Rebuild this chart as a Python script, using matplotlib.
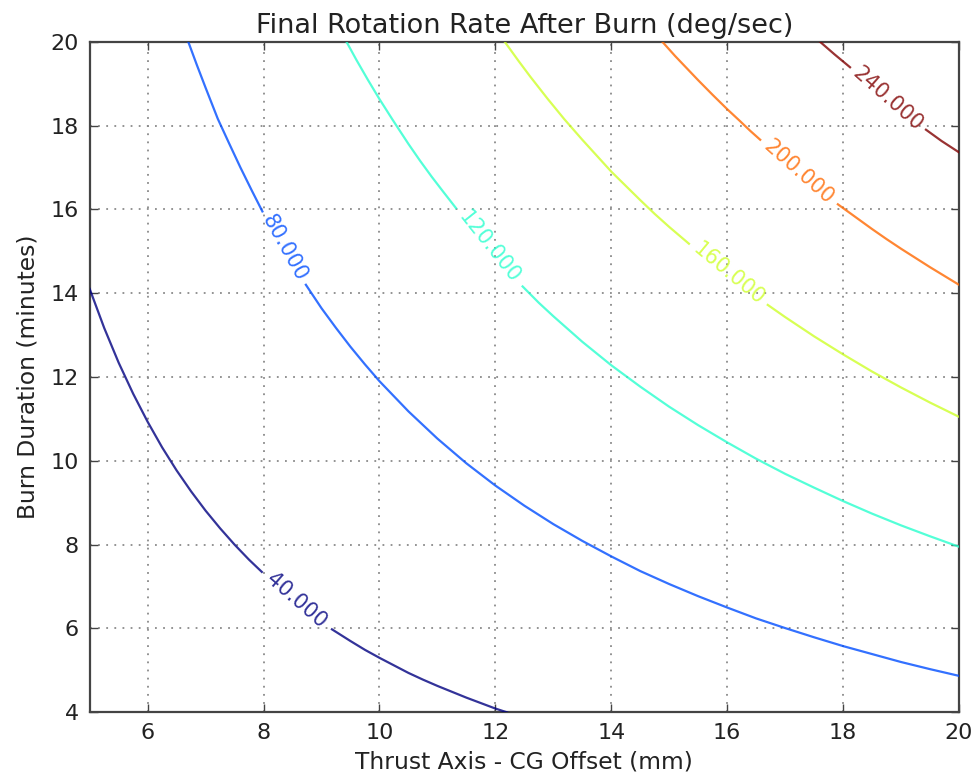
import numpy as np
import matplotlib
matplotlib.use("Agg")
from matplotlib import pyplot as plt

# contour levels (deg/sec) and the digitized contour lines
# each level is drawn as two pieces: before and after the inline label
levels = [40, 80, 120, 160, 200, 240]

c40_a_x = [5.0, 5.25, 5.5, 5.75, 6.0, 6.25, 6.5, 6.75, 7.0, 7.25, 7.5, 7.75, 7.97]
c40_a_y = [14.1, 13.17, 12.34, 11.60, 10.93, 10.32, 9.77, 9.27, 8.81, 8.39, 8.0, 7.64, 7.35]
c40_b_x = [9.18, 9.5, 9.75, 10.0, 10.25, 10.5, 10.75, 11.0, 11.25, 11.5, 11.75, 12.0, 12.2]
c40_b_y = [5.98, 5.70, 5.49, 5.30, 5.12, 4.94, 4.78, 4.63, 4.49, 4.35, 4.22, 4.09, 4.0]

c80_a_x = [6.70, 6.85, 7.0, 7.21, 7.4, 7.6, 7.8, 7.98]
c80_a_y = [20.0, 19.44, 18.9, 18.16, 17.59, 17.0, 16.44, 15.95]
c80_b_x = [8.73, 9.0, 9.25, 9.5, 9.75, 10.0, 10.5, 11.0, 11.5, 12.0, 12.5, 13.0, 13.5,
           14.0, 14.5, 15.0, 15.5, 16.0, 16.5, 17.0, 17.5, 18.0, 18.5, 19.0, 19.5, 20.0]
c80_b_y = [14.2, 13.64, 13.17, 12.72, 12.30, 11.9, 11.18, 10.53, 9.94, 9.41, 8.93, 8.49, 8.09,
           7.72, 7.37, 7.06, 6.77, 6.50, 6.24, 6.01, 5.79, 5.58, 5.39, 5.20, 5.03, 4.87]

c120_a_x = [9.43, 9.6, 9.8, 10.0, 10.23, 10.5, 10.7, 10.9, 11.1, 11.32]
c120_a_y = [20.0, 19.57, 19.09, 18.63, 18.13, 17.56, 17.16, 16.78, 16.42, 16.03]
c120_b_x = [12.47, 12.75, 13.0, 13.5, 14.0, 14.5, 15.0, 15.5, 16.0, 16.5, 17.0, 17.5,
            18.0, 18.5, 19.0, 19.5, 20.0]
c120_b_y = [14.16, 13.77, 13.45, 12.84, 12.28, 11.77, 11.29, 10.85, 10.44, 10.05, 9.69, 9.36,
            9.04, 8.74, 8.46, 8.20, 7.95]

c160_a_x = [12.16, 12.4, 12.6, 12.9, 13.19, 13.5, 13.75, 14.0, 14.25, 14.5, 14.75, 15.0, 15.34]
c160_a_y = [20.0, 19.54, 19.17, 18.64, 18.15, 17.66, 17.28, 16.9, 16.56, 16.22, 15.89, 15.58, 15.18]
c160_b_x = [16.7, 17.0, 17.5, 18.0, 18.5, 19.0, 19.5, 20.0]
c160_b_y = [13.72, 13.43, 12.97, 12.54, 12.13, 11.75, 11.39, 11.05]

c200_a_x = [14.88, 15.1, 15.3, 15.5, 15.75, 16.0, 16.21, 16.4, 16.57]
c200_a_y = [20.0, 19.66, 19.37, 19.08, 18.73, 18.39, 18.12, 17.87, 17.66]
c200_b_x = [17.91, 18.2, 18.5, 18.75, 19.0, 19.25, 19.5, 19.75, 20.0]
c200_b_y = [16.12, 15.83, 15.53, 15.29, 15.06, 14.84, 14.62, 14.41, 14.2]

c240_a_x = [17.60, 17.85, 18.12]
c240_a_y = [20.0, 19.7, 19.39]
c240_b_x = [19.43, 19.7, 20.0]
c240_b_y = [17.9, 17.63, 17.36]

segments = [
    ((c40_a_x, c40_a_y), (c40_b_x, c40_b_y)),
    ((c80_a_x, c80_a_y), (c80_b_x, c80_b_y)),
    ((c120_a_x, c120_a_y), (c120_b_x, c120_b_y)),
    ((c160_a_x, c160_a_y), (c160_b_x, c160_b_y)),
    ((c200_a_x, c200_a_y), (c200_b_x, c200_b_y)),
    ((c240_a_x, c240_a_y), (c240_b_x, c240_b_y)),
]

txt = '#222222'
fig = plt.figure(figsize=(9.73, 7.79), dpi=100)
ax = fig.add_axes([0.0922, 0.0856, 0.8934, 0.8609])

colors = plt.cm.jet(np.linspace(0, 1, len(levels)))

for lev, col, (seg_a, seg_b) in zip(levels, colors, segments):
    ax.plot(seg_a[0], seg_a[1], color=col, alpha=0.8, lw=1.6, zorder=3,
            solid_joinstyle='round')
    ax.plot(seg_b[0], seg_b[1], color=col, alpha=0.8, lw=1.6, zorder=3,
            solid_joinstyle='round')
    # label sits in the gap between the two pieces, rotated along the line
    x0, y0 = seg_a[0][-1], seg_a[1][-1]
    x1, y1 = seg_b[0][0], seg_b[1][0]
    p0 = ax.transData.transform((x0, y0))
    p1 = ax.transData.transform((x1, y1))
    ang = np.degrees(np.arctan2(p1[1] - p0[1], p1[0] - p0[0]))
    ax.text((x0 + x1) / 2, (y0 + y1) / 2, f"{lev:.3f}", color=col, alpha=0.8,
            fontsize=15, rotation=ang, rotation_mode='anchor',
            ha='center', va='center', zorder=4)

ax.set_xlim(5, 20)
ax.set_ylim(4, 20)
ax.set_xticks([6, 8, 10, 12, 14, 16, 18, 20])
ax.set_yticks([4, 6, 8, 10, 12, 14, 16, 18, 20])
ax.grid(True, color='#8a8a8a', linestyle=(0, (1, 3.5)), lw=1.3)
ax.tick_params(direction='in', top=True, right=True, length=6, width=1,
               labelsize=16, colors='#444444', labelcolor=txt, pad=8)
for sp in ax.spines.values():
    sp.set_color('#444444')
    sp.set_linewidth(1.6)

ax.set_title('Final Rotation Rate After Burn (deg/sec)', fontsize=19.5, color=txt, pad=6)
ax.set_xlabel('Thrust Axis - CG Offset (mm)', fontsize=16.8, color=txt, labelpad=5)
ax.set_ylabel('Burn Duration (minutes)', fontsize=16.8, color=txt, labelpad=8)

fig.savefig('out.png', dpi=100)
